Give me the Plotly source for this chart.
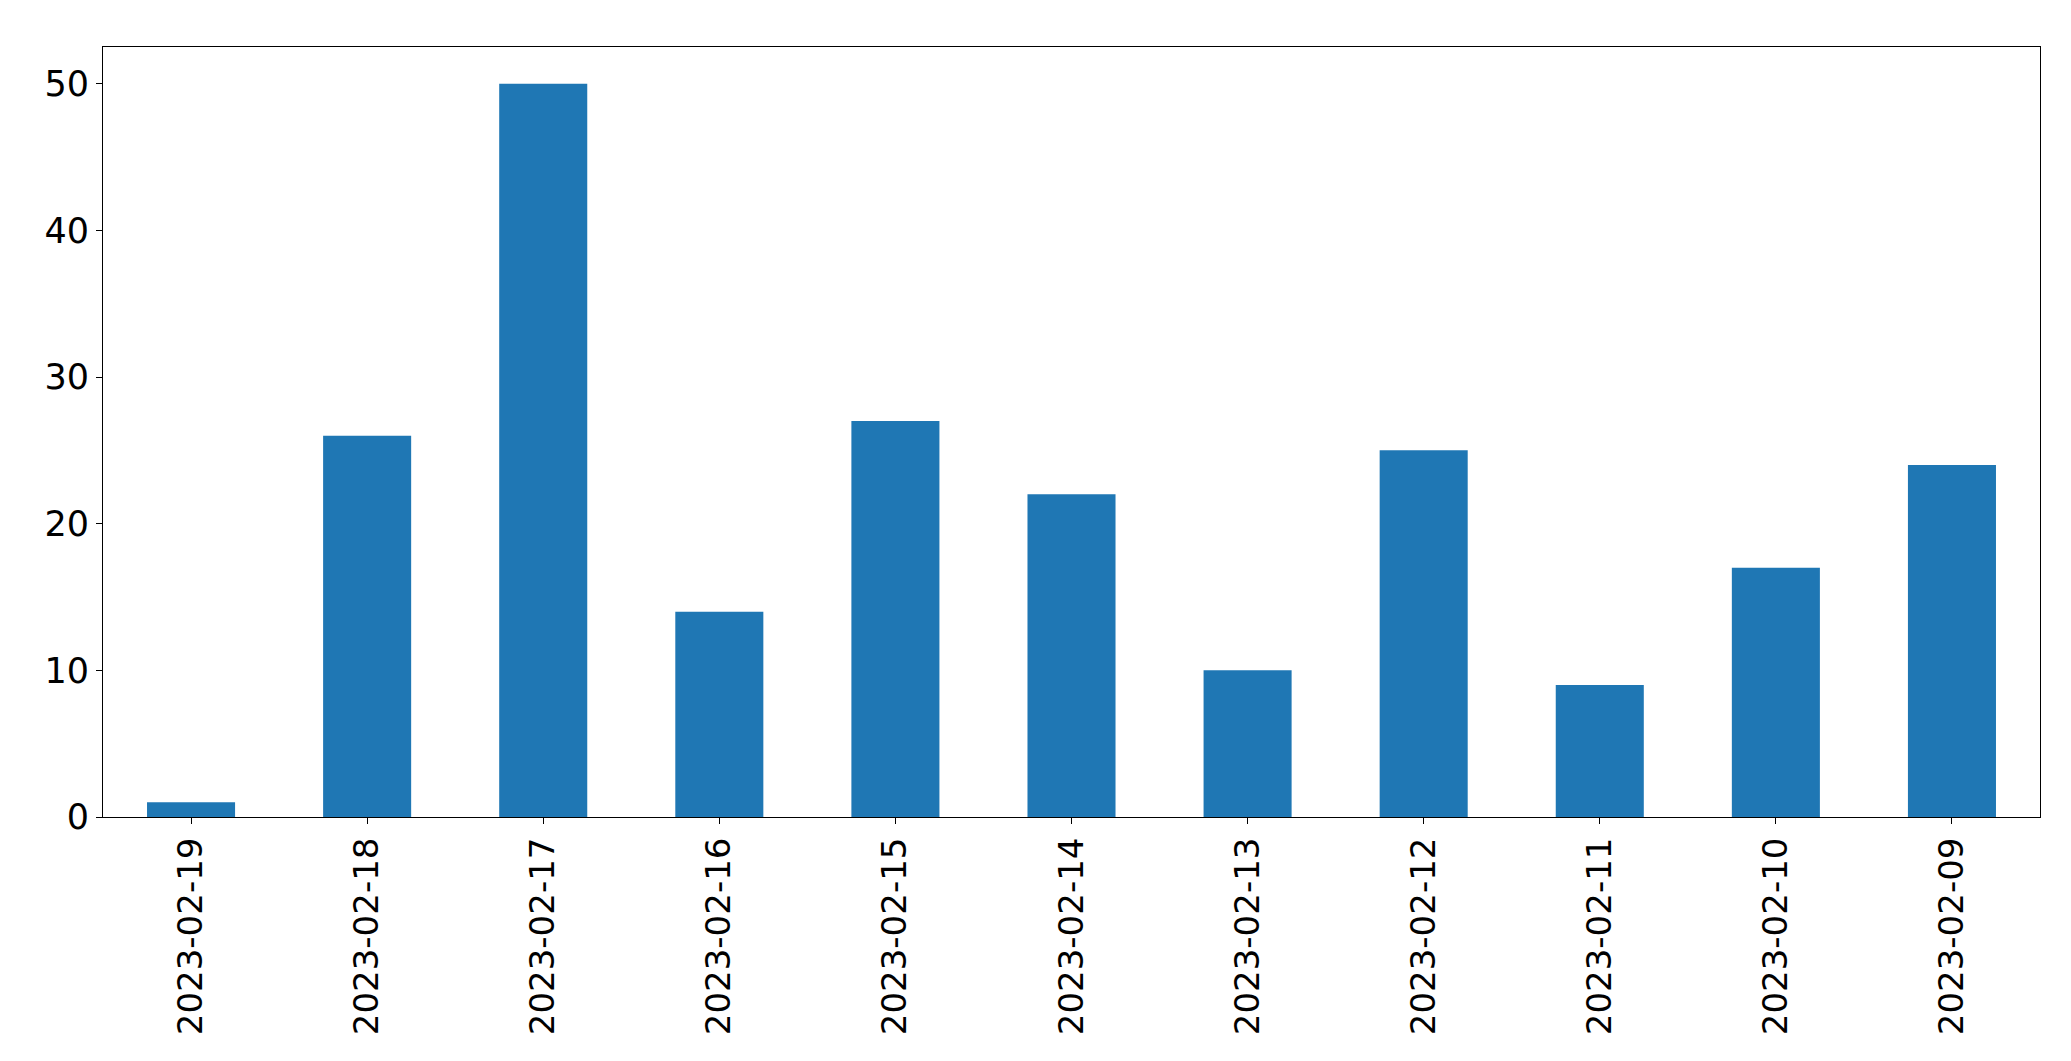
import plotly.graph_objects as go

dates = ["2023-02-19", "2023-02-18", "2023-02-17", "2023-02-16", "2023-02-15",
         "2023-02-14", "2023-02-13", "2023-02-12", "2023-02-11", "2023-02-10", "2023-02-09"]
counts = [1, 26, 50, 14, 27, 22, 10, 25, 9, 17, 24]
y_ticks = [0, 10, 20, 30, 40, 50]

fig = go.Figure(go.Bar(x=dates, y=counts, marker_color="#1f77b4", marker_line_width=0, width=0.5))

fig.update_layout(
    width=2071, height=1061,
    margin=dict(l=95, r=39, t=39, b=252, pad=0),
    paper_bgcolor="white", plot_bgcolor="white",
    font=dict(family="DejaVu Sans", size=35, color="black"),
    showlegend=False,
    bargap=0.5,
)
fig.update_xaxes(type="category", range=[-0.5, 10.5], tickangle=-90,
                 showline=True, mirror=True, linecolor="black", linewidth=1,
                 ticks="outside", ticklen=6, tickcolor="black", showgrid=False,
                 tickfont=dict(size=34))
fig.update_yaxes(range=[0, 52.5], tickvals=y_ticks,
                 showline=True, mirror=True, linecolor="black", linewidth=1,
                 ticks="outside", ticklen=6, tickcolor="black", showgrid=False, zeroline=False,
                 tickfont=dict(size=35))

fig.write_html("out.html")
